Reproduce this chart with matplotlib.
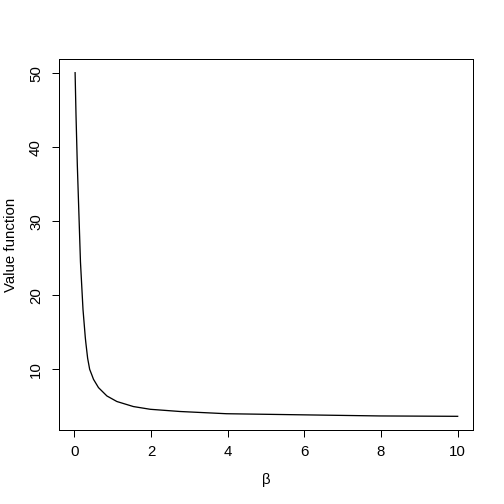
import matplotlib
matplotlib.use("Agg")
import matplotlib.pyplot as plt

# values
beta = [0.02, 0.044, 0.078, 0.12, 0.16, 0.226, 0.286, 0.30, 0.347, 0.40, 0.46,
        0.50, 0.63, 0.85, 1.11, 1.54, 1.98, 2.76, 3.97, 5.96, 7.96, 10.0]
value = [50.1, 44.3, 37.6, 30.9, 24.5, 18.1, 14.3, 13.6, 11.5, 10.0, 9.2,
         8.65, 7.53, 6.4, 5.65, 4.97, 4.6, 4.3, 4.0, 3.85, 3.7, 3.65]
x_ticks = [0, 2, 4, 6, 8, 10]
y_ticks = [10, 20, 30, 40, 50]

plt.rcParams['font.family'] = ['Liberation Sans', 'DejaVu Sans']
plt.rcParams['font.size'] = 15

fig = plt.figure(figsize=(7, 7), dpi=72)
ax = fig.add_axes([59 / 504, 1 - 430 / 504, 414 / 504, 371 / 504])

ax.plot(beta, value, color='black', lw=1.3)

ax.set_xlim(-0.4, 10.4)
ax.set_ylim(1.8, 51.95)
ax.set_xticks(x_ticks)
ax.set_yticks(y_ticks)
ax.set_xticklabels([str(t) for t in x_ticks])
ax.set_yticklabels([str(t) for t in y_ticks], rotation=90, va='center')

ax.tick_params(axis='both', direction='out', length=7, width=1, color='black')
ax.tick_params(axis='x', pad=8)
ax.tick_params(axis='y', pad=9)
for s in ax.spines.values():
    s.set_linewidth(1)
    s.set_color('black')

ax.set_xlabel('β', labelpad=14)
ax.set_ylabel('Value function', labelpad=11)

fig.savefig('out.png', dpi=72)
